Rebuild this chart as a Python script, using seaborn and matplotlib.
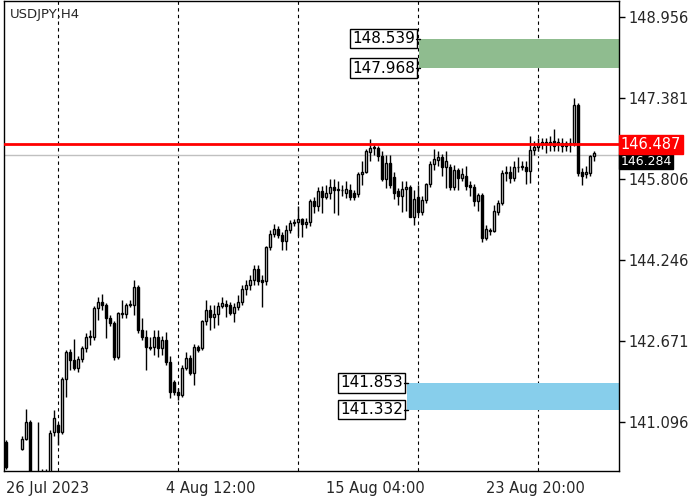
import matplotlib
matplotlib.use("Agg")
import matplotlib.pyplot as plt
import seaborn as sns
import numpy as np
import pandas as pd

opens = [140.71,139.97,139.88,139.93,140.57,140.77,141.10,139.97,140.01,140.05,139.97,140.07,140.90,141.04,140.90,141.93,142.45,142.30,142.14,142.32,
142.53,142.76,142.74,143.30,143.42,143.36,143.11,143.01,142.36,143.19,143.19,143.36,143.36,143.71,142.88,142.74,142.55,142.55,142.74,142.53,
142.68,142.26,141.87,141.68,141.62,142.14,142.34,142.05,142.55,142.53,143.05,143.27,143.13,143.19,143.34,143.38,143.36,143.21,143.32,143.42,
143.67,143.75,143.85,144.06,143.85,143.83,144.49,144.74,144.85,144.72,144.60,144.83,144.95,144.97,145.03,144.93,144.97,145.38,145.28,145.57,
145.47,145.55,145.65,145.61,145.59,145.55,145.59,145.55,145.53,145.90,145.94,146.34,146.44,146.42,146.25,145.82,146.13,145.86,145.57,145.49,
145.61,145.65,145.07,145.47,145.18,145.40,145.71,146.11,146.19,146.23,146.04,146.04,145.65,145.98,145.84,145.88,145.69,145.65,145.38,145.51,
144.66,144.83,144.80,145.18,145.34,145.92,145.94,145.84,146.05,146.07,146.05,145.96,146.38,146.44,146.50,146.54,146.50,146.56,146.54,146.52,
146.46,146.52,146.52,147.25,145.94,145.90,145.92,146.25]
closes = [140.22,139.88,139.93,140.01,140.77,141.10,139.97,139.93,140.05,139.97,140.07,140.88,141.17,140.90,141.93,142.45,142.30,142.14,142.32,142.53,
142.74,142.74,143.30,143.42,143.36,143.11,143.01,142.36,143.21,143.21,143.36,143.38,143.71,142.88,142.74,142.55,142.53,142.74,142.53,142.68,
142.26,141.68,141.68,141.62,142.14,142.34,142.05,142.55,142.49,143.05,143.27,143.13,143.19,143.34,143.40,143.34,143.21,143.32,143.42,143.67,
143.75,143.85,144.06,143.83,143.81,144.49,144.74,144.85,144.72,144.60,144.83,144.95,144.97,145.03,144.93,144.97,145.38,145.28,145.57,145.47,
145.55,145.65,145.59,145.59,145.59,145.61,145.47,145.47,145.90,145.94,146.36,146.42,146.42,146.25,145.82,146.13,145.69,145.55,145.49,145.61,
145.65,145.07,145.42,145.18,145.40,145.71,146.11,146.21,146.23,146.04,146.17,145.65,145.98,145.84,145.90,145.67,145.65,145.38,145.51,144.66,
144.85,144.80,145.20,145.34,145.92,145.94,145.84,146.05,146.04,146.04,145.96,146.38,146.44,146.50,146.54,146.50,146.54,146.46,146.50,146.46,
146.52,146.50,147.25,145.92,145.88,145.94,146.25,146.31]
highs = [140.75,140.01,140.01,140.07,140.82,141.35,141.14,140.05,141.10,140.17,140.17,140.94,141.33,141.08,141.97,142.49,142.51,142.70,142.37,142.57,
142.82,142.88,143.34,143.52,143.58,143.40,143.17,143.05,143.23,143.46,143.40,143.46,143.85,143.75,143.11,142.88,142.74,142.88,142.88,142.76,
142.84,142.37,141.91,141.75,142.20,142.45,142.39,142.61,142.59,143.07,143.46,143.36,143.36,143.42,143.52,143.46,143.42,143.40,143.56,143.75,
143.85,143.94,144.14,144.14,143.94,144.52,144.82,144.93,144.89,144.78,144.91,145.01,145.03,145.28,145.05,145.05,145.42,145.47,145.65,145.67,
145.69,145.82,145.82,145.78,145.69,145.78,145.72,145.59,145.94,146.17,146.40,146.58,146.50,146.46,146.36,146.27,146.27,145.94,145.63,145.78,
145.78,145.69,145.59,145.69,145.49,145.74,146.17,146.40,146.36,146.29,146.36,146.11,146.09,146.02,146.02,146.07,145.78,145.72,145.55,145.55,
144.91,144.87,145.30,145.40,145.98,146.07,146.07,146.17,146.23,146.17,146.17,146.65,146.56,146.60,146.60,146.60,146.65,146.79,146.60,146.60,
146.56,146.60,147.39,147.29,146.02,146.07,146.27,146.36]
lows = [140.17,139.78,139.78,139.82,140.55,140.75,139.88,139.78,139.88,139.78,139.82,139.97,140.82,140.65,140.86,141.58,142.10,142.10,142.06,142.26,
142.45,142.59,142.68,143.07,143.27,142.72,142.96,142.30,142.32,143.11,143.11,143.32,143.17,142.82,142.68,142.10,142.49,142.39,142.36,142.39,
142.20,141.56,141.62,141.52,141.58,142.10,142.01,141.81,142.45,142.49,142.97,142.88,142.92,142.97,143.30,143.13,143.17,143.03,143.27,143.36,
143.56,143.65,143.75,143.75,143.32,143.75,144.43,144.68,144.66,144.43,144.43,144.76,144.89,144.70,144.68,144.87,144.89,145.16,145.20,145.16,
145.43,145.43,145.16,145.11,145.49,145.45,145.40,145.40,145.47,145.69,145.92,146.17,146.27,146.17,145.78,145.63,145.63,145.43,145.30,145.18,
145.20,145.07,144.91,145.11,145.11,145.34,145.65,145.98,146.07,145.88,145.63,145.59,145.59,145.59,145.78,145.59,145.49,145.28,145.20,144.58,
144.62,144.72,144.78,145.11,145.30,145.78,145.74,145.78,145.94,145.98,145.72,145.74,146.27,146.36,146.40,146.31,146.36,146.36,146.36,146.33,
146.36,146.33,146.46,145.88,145.69,145.84,145.88,146.17]

date_labels = ["26 Jul 2023", "4 Aug 12:00", "15 Aug 04:00", "23 Aug 20:00"]
date_idx = [0, 40, 80, 120]
sep_idx = [13, 43, 73, 103, 133]
price_ticks = [148.956, 147.381, 145.806, 144.246, 142.671, 141.096]
resistance = [147.968, 148.539]
support = [141.332, 141.853]
level = 146.487
last_price = 146.284

sns.set_theme(style="white")
plt.rcParams['font.family'] = ['DejaVu Sans']

df = pd.DataFrame({"i": np.arange(len(closes)), "o": opens, "c": closes, "h": highs, "l": lows})
fig = plt.figure(figsize=(7, 5), dpi=100)
ax = fig.add_axes([0.006, 0.058, 0.878, 0.94])
ymin, ymax = 140.14, 149.27
ax.set_ylim(ymin, ymax)
ax.set_xlim(-0.5, 153.25)

for s in sep_idx:
    ax.axvline(s, color="black", ls=(0, (3, 3)), lw=0.8, zorder=1)

ax.axhspan(resistance[0], resistance[1], xmin=(103.25 + 0.5) / 153.75, xmax=1, color="#8fbc8f", zorder=2, lw=0)
ax.axhspan(support[0], support[1], xmin=(100.25 + 0.5) / 153.75, xmax=1, color="#87ceeb", zorder=2, lw=0)

ax.axhline(last_price, color="#c0c0c0", lw=1, zorder=2)
ax.axhline(level, color="red", lw=2, zorder=5)

ax.vlines(df["i"], df["l"], df["h"], color="black", lw=1, zorder=3)
up = df["c"] >= df["o"]
bottoms = np.minimum(df["o"], df["c"])
heights = np.maximum(np.abs(df["c"] - df["o"]), 0.012)
ax.bar(df["i"][up], heights[up], bottom=bottoms[up], width=0.65, facecolor="white", edgecolor="black", lw=1, zorder=4)
ax.bar(df["i"][~up], heights[~up], bottom=bottoms[~up], width=0.65, facecolor="black", edgecolor="black", lw=1, zorder=4)

for v, xi in [(resistance[1], 102.3), (resistance[0], 102.3), (support[1], 99.3), (support[0], 99.3)]:
    ax.text(xi, v, f"{v:.3f}", ha="right", va="center", fontsize=11, color="black", zorder=6,
            bbox=dict(boxstyle="square,pad=0.15", facecolor="white", edgecolor="black", lw=1))
for v, xi in [(resistance[1], 102.5), (resistance[0], 102.5), (support[1], 99.5), (support[0], 99.5)]:
    ax.plot([xi, xi + 0.9], [v, v], color="black", lw=1, zorder=6)

ax.text(0.01, 0.985, "USDJPY,H4", transform=ax.transAxes, ha="left", va="top", fontsize=9.5)

ax.yaxis.tick_right()
ax.set_yticks(price_ticks)
ax.set_yticklabels([f"{p:.3f}" for p in price_ticks], fontsize=10.5)
ax.tick_params(axis="y", direction="out", length=4, width=1, color="black", pad=3)
ax.set_xticks(date_idx)
ax.set_xticklabels(date_labels, fontsize=10.5, ha="left")
ax.tick_params(axis="x", direction="out", length=4, width=1, color="black", pad=3)
for sp in ax.spines.values():
    sp.set_color("black"); sp.set_linewidth(1)

tr = ax.get_yaxis_transform()
ax.text(1.003, last_price - 0.13, f"{last_price:.3f}", transform=tr, ha="left", va="center", fontsize=9,
        color="white", zorder=7, bbox=dict(boxstyle="square,pad=0.1", facecolor="black", edgecolor="black"), clip_on=False)
ax.text(1.003, level, f"{level:.3f}", transform=tr, ha="left", va="center", fontsize=10.5,
        color="white", zorder=8, bbox=dict(boxstyle="square,pad=0.12", facecolor="red", edgecolor="red"), clip_on=False)

fig.savefig("out.png", dpi=100, facecolor="white")
